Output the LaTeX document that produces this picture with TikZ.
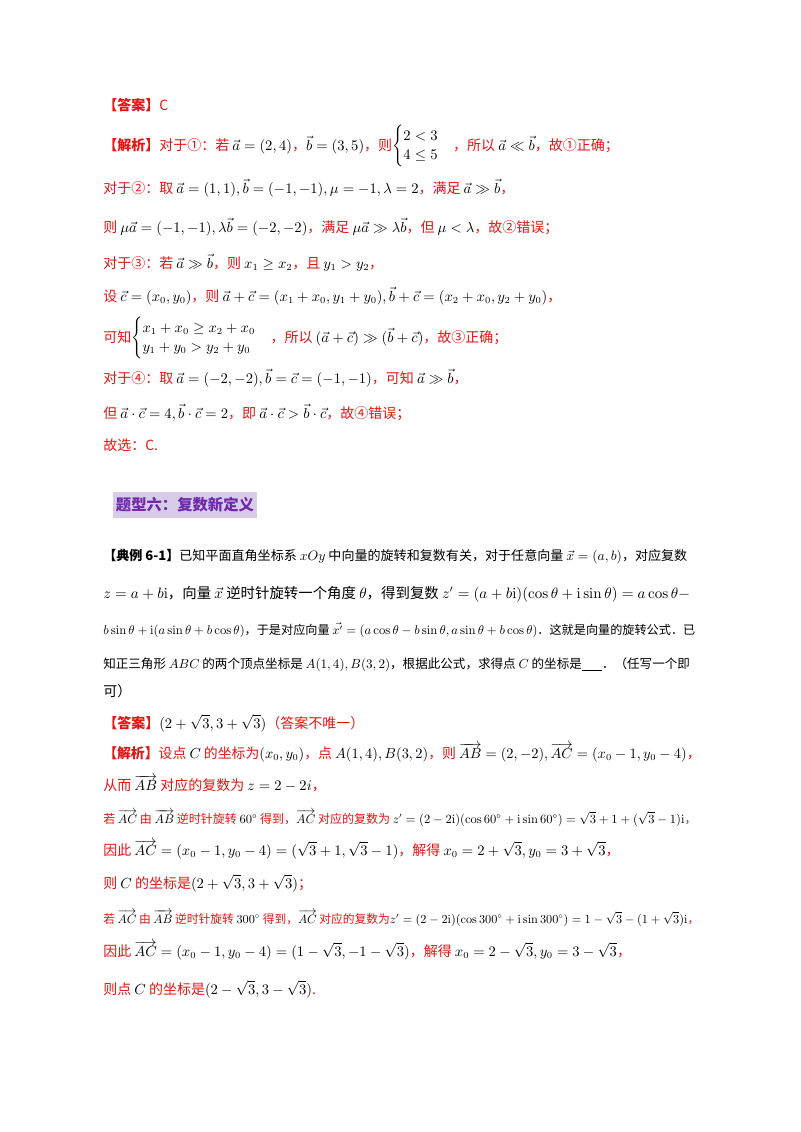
\documentclass[tikz,border=0pt]{standalone}
\usepackage{amsmath,amssymb,graphicx}
\usepackage[no-math]{fontspec}
\setmainfont{Noto Sans CJK SC}
\definecolor{rd}{RGB}{230,20,20}
\definecolor{hdtext}{RGB}{110,40,170}
\definecolor{hdbg}{RGB}{215,205,232}
\newcommand{\rr}[1]{{\color{rd}#1}}
\newcommand{\va}{\vec a}\newcommand{\vb}{\vec b}\newcommand{\vc}{\vec c}
\newcommand{\AC}{\overrightarrow{AC}}\newcommand{\AB}{\overrightarrow{AB}}
\newcommand{\fitw}[2]{\resizebox{#1pt}{!}{#2}}
\begin{document}
\begin{tikzpicture}[x=0.75pt,y=-0.75pt,
  ln/.style={anchor=base west,inner sep=0pt,font=\fontsize{10.5}{12}\selectfont}]
\useasboundingbox (0,0) rectangle (800,1132);
\node[ln] (a1) at (103,110) {\rr{\textbf{【答案】}C}};
\node[ln] (a2) at (103,150) {\rr{\textbf{【解析】}对于①：若} $\va=(2,4)$\rr{，}$\vb=(3,5)$\rr{，则}$\begin{cases}2<3\\4\le5\end{cases}$\rr{，所以} $\va\ll\vb$\rr{，故①正确；}};
\node[ln] (a3) at (103,193) {\rr{对于②：取} $\va=(1,1),\vb=(-1,-1),\mu=-1,\lambda=2$\rr{，满足} $\va\gg\vb$\rr{，}};
\node[ln] (a4) at (103,232) {\rr{则} $\mu\va=(-1,-1),\lambda\vb=(-2,-2)$\rr{，满足} $\mu\va\gg\lambda\vb$\rr{，但} $\mu<\lambda$\rr{，故②错误；}};
\node[ln] (a5) at (103,268) {\rr{对于③：若} $\va\gg\vb$\rr{，则} $x_1\ge x_2$\rr{，且} $y_1>y_2$\rr{，}};
\node[ln] (a6) at (103,301) {\rr{设} $\vc=(x_0,y_0)$\rr{，则} $\va+\vc=(x_1+x_0,y_1+y_0),\vb+\vc=(x_2+x_0,y_2+y_0)$\rr{，}};
\node[ln] (a7) at (103,342) {\rr{可知}$\begin{cases}x_1+x_0\ge x_2+x_0\\y_1+y_0>y_2+y_0\end{cases}$\rr{，所以} $(\va+\vc)\gg(\vb+\vc)$\rr{，故③正确；}};
\node[ln] (a8) at (103,383) {\rr{对于④：取} $\va=(-2,-2),\vb=\vc=(-1,-1)$\rr{，可知} $\va\gg\vb$\rr{，}};
\node[ln] (a9) at (103,418) {\rr{但} $\va\cdot\vc=4,\vb\cdot\vc=2$\rr{，即} $\va\cdot\vc>\vb\cdot\vc$\rr{，故④错误；}};
\node[ln] (a10) at (103,450) {\rr{故选：C.}};
\node[anchor=west,fill=hdbg,inner xsep=2pt,inner ysep=4pt,text=hdtext,font=\fontsize{11.5}{13}\bfseries\selectfont] (hd) at (113,505) {题型六：复数新定义};
\node[ln] (b1) at (103,560) {\fitw{438}{\textbf{【典例 6-1】}已知平面直角坐标系 $xOy$ 中向量的旋转和复数有关，对于任意向量 $\vec x=(a,b)$，对应复数}};
\node[ln] (b2) at (103,598) {\fitw{440}{$z=a+b\mathrm i$，向量 $\vec x$ 逆时针旋转一个角度 $\theta$，得到复数 $z'=(a+b\mathrm i)(\cos\theta+\mathrm i\sin\theta)=a\cos\theta-$}};
\node[ln] (b3) at (103,634) {\fitw{444}{$b\sin\theta+\mathrm i(a\sin\theta+b\cos\theta)$，于是对应向量 $\vec{x'}=(a\cos\theta-b\sin\theta,a\sin\theta+b\cos\theta)$．这就是向量的旋转公式．已}};
\node[ln] (b4) at (103,668) {\fitw{440}{知正三角形 $ABC$ 的两个顶点坐标是 $A(1,4),B(3,2)$，根据此公式，求得点 $C$ 的坐标是\underline{\hspace{1.6em}}．（任写一个即}};
\node[ln] (b5) at (103,696) {可）};
\node[ln] (c1) at (103,728) {\rr{\textbf{【答案】}}$(2+\sqrt3,3+\sqrt3)$\rr{（答案不唯一）}};
\node[ln] (c2) at (103,758) {\fitw{448}{\rr{\textbf{【解析】}设点} $C$ \rr{的坐标为}$(x_0,y_0)$\rr{，点} $A(1,4),B(3,2)$\rr{，则} $\AB=(2,-2),\AC=(x_0-1,y_0-4)$\rr{，}}};
\node[ln] (c3) at (103,790) {\rr{从而} $\AB$ \rr{对应的复数为} $z=2-2i$\rr{，}};
\node[ln] (c4) at (103,823) {\fitw{445}{\rr{若} $\AC$ \rr{由} $\AB$ \rr{逆时针旋转} $60^\circ$ \rr{得到，}$\AC$ \rr{对应的复数为} $z'=(2-2\mathrm i)(\cos60^\circ+\mathrm i\sin60^\circ)=\sqrt3+1+(\sqrt3-1)\mathrm i$\rr{，}}};
\node[ln] (c5) at (103,855) {\rr{因此} $\AC=(x_0-1,y_0-4)=(\sqrt3+1,\sqrt3-1)$\rr{，解得} $x_0=2+\sqrt3,y_0=3+\sqrt3$\rr{，}};
\node[ln] (c6) at (103,888) {\rr{则} $C$ \rr{的坐标是}$(2+\sqrt3,3+\sqrt3)$\rr{；}};
\node[ln] (c7) at (103,923) {\fitw{447}{\rr{若} $\AC$ \rr{由} $\AB$ \rr{逆时针旋转} $300^\circ$ \rr{得到，}$\AC$ \rr{对应的复数为}$z'=(2-2\mathrm i)(\cos300^\circ+\mathrm i\sin300^\circ)=1-\sqrt3-(1+\sqrt3)\mathrm i$\rr{，}}};
\node[ln] (c8) at (103,956) {\rr{因此} $\AC=(x_0-1,y_0-4)=(1-\sqrt3,-1-\sqrt3)$\rr{，解得} $x_0=2-\sqrt3,y_0=3-\sqrt3$\rr{，}};
\node[ln] (c9) at (103,994) {\rr{则点} $C$ \rr{的坐标是}$(2-\sqrt3,3-\sqrt3)$\rr{.}};
\end{tikzpicture}
\end{document}
